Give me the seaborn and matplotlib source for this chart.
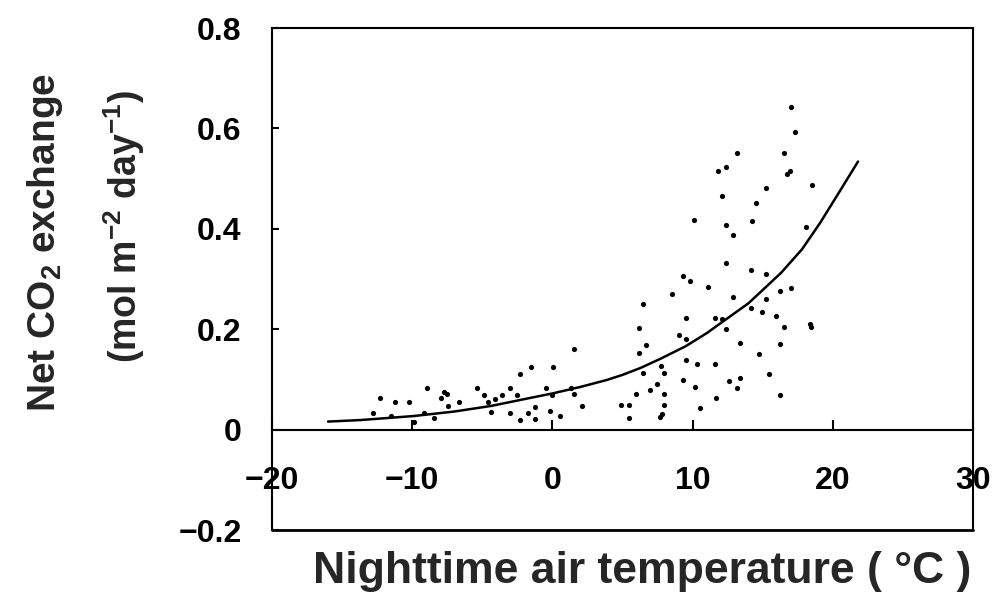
import matplotlib
matplotlib.use("Agg")
import matplotlib.pyplot as plt
import seaborn as sns
import pandas as pd

# ---- data ----
temp_obs = [-12.79, -12.27, -11.22, -10.22, -9.89, -8.94, -9.18, -8.47, -7.94, -7.70,
            -7.50, -7.42, -6.66, -5.37, -4.85, -4.56, -4.35, -4.11, -3.57, -3.05,
            -2.55, -3.05, -2.28, -2.28, -1.73, -11.50,
            -1.52, 0.02, 1.52, -0.48, -0.02, 1.33, 1.57, -1.26, -1.21, -0.19,
            0.57, 2.09, 4.92, 5.44, 5.44, 5.94, 6.21, 6.70, 6.21, 6.47, 6.99, 7.47,
            13.17, 12.41, 11.84, 12.13, 14.50, 10.08, 14.22, 12.41, 12.89, 12.36,
            14.19, 9.30, 9.80, 11.10, 8.51, 12.89, 6.47, 14.17, 9.53, 11.63,
            12.13, 12.41, 9.01, 9.53, 13.41, 14.72, 9.53, 10.32, 11.63, 7.75,
            7.99, 9.30, 12.60, 13.41, 13.17, 10.20, 7.99, 11.65, 7.99, 10.56,
            7.85, 7.70,
            17.02, 17.28, 16.50, 16.93, 16.76, 15.24, 18.55, 18.07, 15.24, 16.26,
            17.02, 15.24, 14.96, 15.98, 16.50, 18.35, 18.45, 16.26, 15.43, 16.26]
nee_obs = [0.034, 0.062, 0.054, 0.054, 0.015, 0.083, 0.034, 0.023, 0.062, 0.075,
           0.070, 0.048, 0.054, 0.082, 0.068, 0.054, 0.035, 0.061, 0.068, 0.083,
           0.069, 0.034, 0.110, 0.020, 0.034, 0.027,
           0.125, 0.124, 0.160, 0.083, 0.068, 0.083, 0.070, 0.045, 0.021, 0.038,
           0.027, 0.048, 0.050, 0.050, 0.023, 0.070, 0.203, 0.168, 0.153, 0.113, 0.078, 0.090,
           0.551, 0.523, 0.515, 0.466, 0.452, 0.418, 0.416, 0.408, 0.388, 0.332,
           0.318, 0.305, 0.297, 0.285, 0.271, 0.264, 0.251, 0.242, 0.222, 0.222,
           0.220, 0.200, 0.188, 0.181, 0.173, 0.151, 0.139, 0.131, 0.131, 0.126,
           0.112, 0.098, 0.096, 0.103, 0.083, 0.084, 0.070, 0.063, 0.050, 0.043,
           0.032, 0.025,
           0.643, 0.592, 0.551, 0.515, 0.510, 0.481, 0.487, 0.403, 0.310, 0.276,
           0.282, 0.261, 0.234, 0.226, 0.205, 0.210, 0.205, 0.171, 0.110, 0.068]

fit_temp = [-16.0, -13.7, -9.9, -7.0, -4.4, -1.6, 0.0, 2.0, 3.9, 5.0, 6.3, 7.7, 9.5,
            11.0, 12.1, 14.0, 16.3, 17.8, 19.1, 20.5, 21.8]
fit_nee = [0.016, 0.019, 0.027, 0.036, 0.047, 0.063, 0.072, 0.085, 0.099, 0.109,
           0.123, 0.141, 0.166, 0.192, 0.214, 0.252, 0.312, 0.359, 0.412, 0.475, 0.534]

x_ticks = [-20, -10, 0, 10, 20, 30]
x_tick_labels = ["\u221220", "\u221210", "0", "10", "20", "30"]
y_ticks = [-0.2, 0.0, 0.2, 0.4, 0.6, 0.8]
y_tick_labels = ["\u22120.2", "0", "0.2", "0.4", "0.6", "0.8"]

obs = pd.DataFrame({"temp": temp_obs, "nee": nee_obs})
fit = pd.DataFrame({"temp": fit_temp, "nee": fit_nee})

sns.set_theme(style="ticks")
plt.rcParams["font.family"] = ["Liberation Sans", "DejaVu Sans"]
plt.rcParams["font.weight"] = "bold"
plt.rcParams["mathtext.fontset"] = "custom"
plt.rcParams["mathtext.rm"] = "Liberation Sans:bold"
plt.rcParams["mathtext.it"] = "Liberation Sans:bold"
plt.rcParams["mathtext.bf"] = "Liberation Sans:bold"
plt.rcParams["mathtext.default"] = "rm"

fig = plt.figure(figsize=(9.96, 5.96), dpi=100)
ax = fig.add_axes([272 / 996, 1 - 530 / 596, (973 - 272) / 996, (530 - 28) / 596])

sns.scatterplot(data=obs, x="temp", y="nee", ax=ax, color="black", s=14,
                edgecolor="black", linewidth=0, legend=False)
sns.lineplot(data=fit, x="temp", y="nee", ax=ax, color="black", linewidth=1.8,
             estimator=None, sort=False, legend=False)

ax.set_xlim(-20, 30)
ax.set_ylim(-0.2, 0.8)

for side in ["left", "right", "top", "bottom"]:
    ax.spines[side].set_visible(True)
    ax.spines[side].set_color("black")
    ax.spines[side].set_linewidth(1.5)
ax.spines["bottom"].set_position(("data", 0))
ax.axhline(-0.2, color="black", linewidth=2.0, clip_on=False, zorder=5)

ax.set_xticks(x_ticks)
ax.set_xticklabels(x_tick_labels)
ax.set_yticks(y_ticks)
ax.set_yticklabels(y_tick_labels)
ax.tick_params(axis="x", direction="in", length=7, width=1.5, pad=26,
               labelsize=23, colors="black")
ax.tick_params(axis="y", direction="in", length=5, width=1.5, pad=22,
               labelsize=23, colors="black")
for lab in ax.get_xticklabels() + ax.get_yticklabels():
    lab.set_fontweight("bold")

ax.set_xlabel("")
ax.set_ylabel("")

fig.text(0.645, 1 - 583 / 596, "Nighttime air temperature ( \u00b0C )", ha="center",
         va="baseline", fontsize=32, fontweight="bold")
fig.text(0.045, 0.594, "Net CO$_2$ exchange", ha="center", va="center",
         rotation=90, fontsize=28, fontweight="bold")
fig.text(0.125, 0.62, "(mol m$^{-2}$ day$^{-1}$)", ha="center", va="center",
         rotation=90, fontsize=27, fontweight="bold")

fig.savefig("out.png", dpi=100)
